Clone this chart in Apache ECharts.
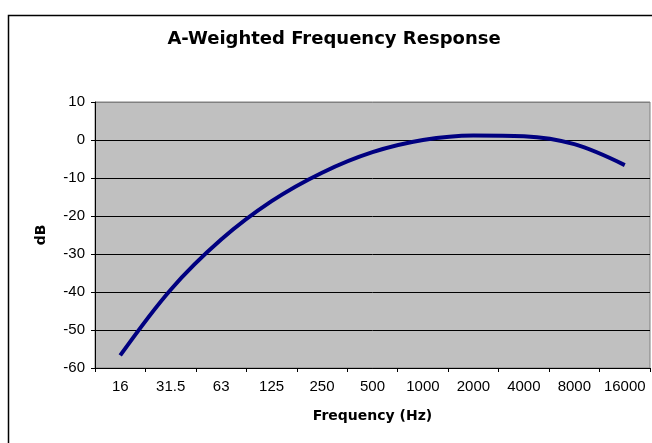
<!DOCTYPE html>
<html>
<head>
<meta charset="utf-8">
<script src="https://cdn.jsdelivr.net/npm/echarts@6/dist/echarts.min.js"></script>
<style>
html,body{margin:0;padding:0;background:#fff;}
#chart{width:652px;height:443px;}
</style>
</head>
<body>
<div id="chart"></div>
<script>
var categories = ['16', '31.5', '63', '125', '250', '500', '1000', '2000', '4000', '8000', '16000'];
var dbValues = [-56.7, -39.4, -26.2, -16.1, -8.6, -3.2, 0, 1.2, 1.0, -1.1, -6.6];
var yTicks = { min: -60, max: 10, interval: 10 };

var chart = echarts.init(document.getElementById('chart'), null, { renderer: 'canvas' });
chart.setOption({
  animation: false,
  backgroundColor: '#ffffff',
  graphic: [{
    type: 'rect',
    shape: { x: 8.5, y: 15.5, width: 700, height: 500 },
    style: { fill: 'none', stroke: '#000', lineWidth: 1.5 },
    silent: true,
    z: -1
  }],
  title: {
    text: 'A-Weighted Frequency Response',
    left: 334,
    textAlign: 'center',
    top: 30,
    padding: 0,
    textStyle: { fontFamily: 'DejaVu Sans', fontWeight: 'bold', fontSize: 18, color: '#000' }
  },
  grid: {
    left: 95, right: 2, top: 102, bottom: 75,
    show: true,
    backgroundColor: '#C0C0C0',
    borderColor: '#808080',
    borderWidth: 1
  },
  xAxis: {
    type: 'category',
    data: categories,
    boundaryGap: true,
    name: 'Frequency (Hz)',
    nameLocation: 'middle',
    nameGap: 41,
    nameTextStyle: { fontFamily: 'DejaVu Sans', fontWeight: 'bold', fontSize: 14, color: '#000' },
    axisLine: { show: true, onZero: false, lineStyle: { color: '#000', width: 1 } },
    axisTick: { show: true, length: 4, alignWithLabel: false, lineStyle: { color: '#000' } },
    axisLabel: { interval: 0, margin: 11, fontFamily: 'Liberation Sans', fontSize: 15, color: '#000' },
    splitLine: { show: false }
  },
  yAxis: {
    type: 'value',
    min: yTicks.min,
    max: yTicks.max,
    interval: yTicks.interval,
    name: 'dB',
    nameLocation: 'middle',
    nameGap: 47,
    nameRotate: 90,
    nameTextStyle: { fontFamily: 'DejaVu Sans', fontWeight: 'bold', fontSize: 14, color: '#000' },
    axisLine: { show: true, lineStyle: { color: '#000', width: 1 } },
    axisTick: { show: true, length: 4, lineStyle: { color: '#000' } },
    axisLabel: { margin: 10, fontFamily: 'Liberation Sans', fontSize: 15, color: '#000' },
    splitLine: { show: true, lineStyle: { color: ['#000', '#000', '#000', '#000', '#000', '#000', '#000', '#808080'], width: 1 } }
  },
  series: [{
    type: 'line',
    data: dbValues,
    smooth: 0.35,
    symbol: 'none',
    lineStyle: { color: '#000080', width: 4 },
    z: 5
  }]
});
</script>
</body>
</html>
